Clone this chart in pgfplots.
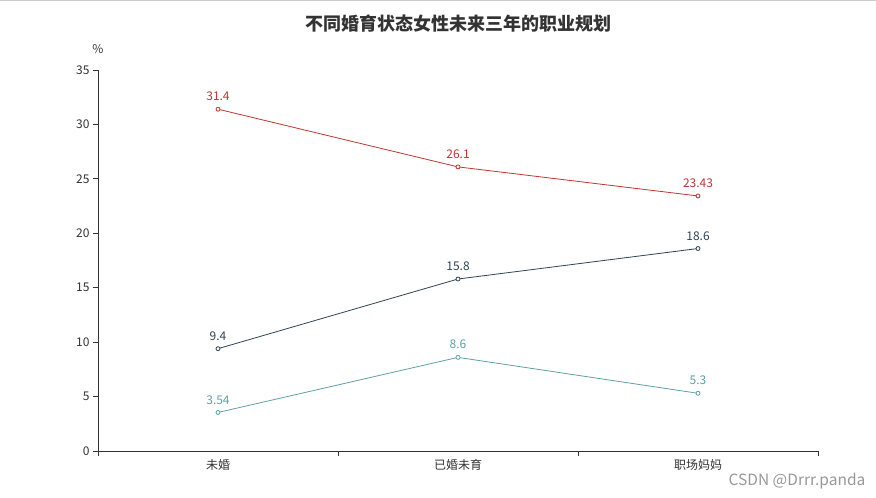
\documentclass[border=0pt]{standalone}
\usepackage{pgfplots}
\pgfplotsset{compat=1.18}
\usepackage{fontspec}
\setmainfont{Noto Sans CJK SC}
\definecolor{cred}{HTML}{C23531}
\definecolor{cdark}{HTML}{2F4554}
\definecolor{cteal}{HTML}{61A0A8}
\definecolor{axc}{HTML}{333333}
\begin{document}
\begin{tikzpicture}
\useasboundingbox (0pt,0pt) rectangle (876pt,498pt);
\fill[white] (0pt,0pt) rectangle (876pt,498pt);
\draw[black!20, line width=1pt] (0pt,497pt) -- (876pt,497pt);
\node[font=\fontsize{18}{21}\selectfont\bfseries, text=axc] at (458pt,474pt) {不同婚育状态女性未来三年的职业规划};
\begin{axis}[
  at={(98pt,47pt)}, anchor=south west,
  scale only axis, width=720pt, height=381pt,
  xmin=-0.5, xmax=2.5, ymin=0, ymax=35,
  axis lines*=left,
  axis line style={axc, line width=0.8pt},
  xtick={-0.5,0.5,1.5,2.5},
  x tick label as interval,
  xticklabels={未婚,已婚未育,职场妈妈},
  ytick={0,5,...,35},
  tick align=outside,
  major tick length=5pt,
  tick style={axc, line width=0.8pt},
  tick label style={font=\fontsize{12}{14}\selectfont, text=axc},
  /pgf/number format/assume math mode=true,
  clip=false,
  every axis plot/.append style={line width=0.8pt, mark=*, mark size=2pt, mark options={fill=white, line width=0.8pt}},
  nodes near coords,
  every node near coord/.append style={font=\fontsize{12}{14}\selectfont, anchor=south, yshift=4.5pt},
  point meta=explicit symbolic,
]
\addplot[cred, every node near coord/.append style={text=cred}] coordinates {(0,31.4)[31.4] (1,26.1)[26.1] (2,23.43)[23.43]};
\addplot[cdark, every node near coord/.append style={text=cdark}] coordinates {(0,9.4)[9.4] (1,15.8)[15.8] (2,18.6)[18.6]};
\addplot[cteal, every node near coord/.append style={text=cteal}] coordinates {(0,3.54)[3.54] (1,8.6)[8.6] (2,5.3)[5.3]};
\node[font=\fontsize{12}{14}\selectfont, text=axc] at (rel axis cs:0,1) [yshift=21pt] {\%};
\end{axis}
\node[font=\fontsize{15.5}{18}\selectfont, text=black!40] at (797pt,17pt) {CSDN @Drrr.panda};
\end{tikzpicture}
\end{document}
